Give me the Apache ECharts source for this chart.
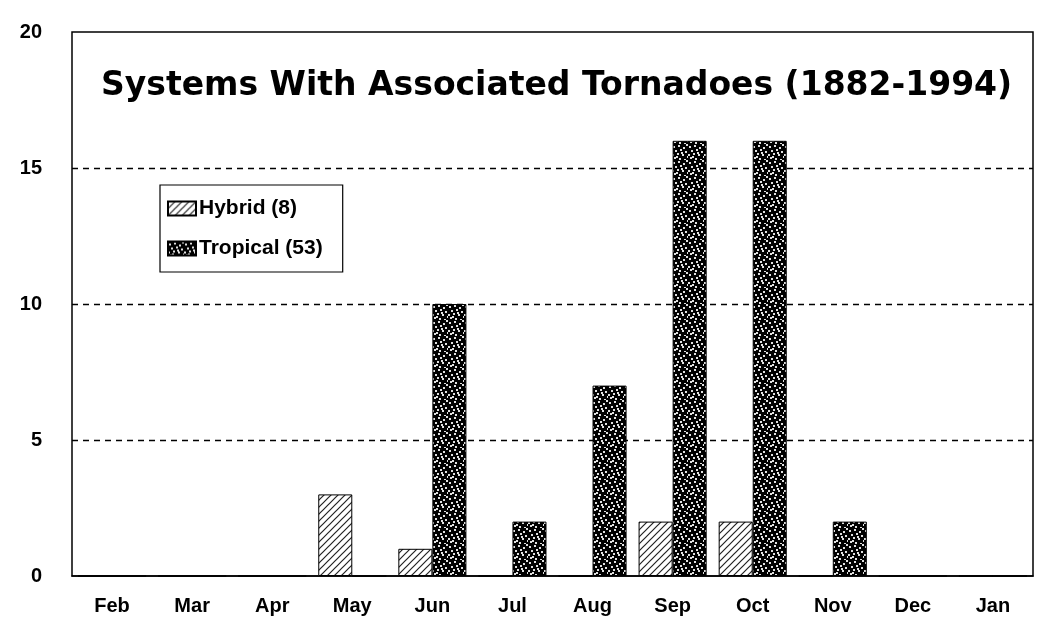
<!DOCTYPE html>
<html>
<head>
<meta charset="utf-8">
<script src="https://cdn.jsdelivr.net/npm/echarts@6/dist/echarts.min.js"></script>
<style>
  html, body { margin: 0; padding: 0; background: #fff; }
  #chart { width: 1045px; height: 635px; }
</style>
</head>
<body>
<div id="chart"></div>
<script>
const months = ['Feb', 'Mar', 'Apr', 'May', 'Jun', 'Jul', 'Aug', 'Sep', 'Oct', 'Nov', 'Dec', 'Jan']
const hybrid = [0, 0, 0, 3, 1, 0, 0, 2, 2, 0, 0, 0]
const tropical = [0, 0, 0, 0, 10, 2, 7, 16, 16, 2, 0, 0]
const yTicks = [0, 5, 10, 15, 20]

const labelFont = 'Liberation Sans Narrow, Arial Narrow, Liberation Sans, Arial, sans-serif'

// diagonal hatch for hybrid bars
function hatchPattern() {
  const c = document.createElement('canvas')
  c.width = 7
  c.height = 7
  const ctx = c.getContext('2d')
  ctx.fillStyle = '#fff'
  ctx.fillRect(0, 0, 7, 7)
  ctx.strokeStyle = '#222'
  ctx.lineWidth = 1.2
  ctx.beginPath()
  ctx.moveTo(-1, 8); ctx.lineTo(8, -1)
  ctx.moveTo(-1, 1); ctx.lineTo(1, -1)
  ctx.moveTo(6, 8); ctx.lineTo(8, 6)
  ctx.stroke()
  return c
}

// dark stipple for tropical bars
function stipplePattern() {
  const c = document.createElement('canvas')
  c.width = 16
  c.height = 16
  const ctx = c.getContext('2d')
  ctx.fillStyle = '#000'
  ctx.fillRect(0, 0, 16, 16)
  ctx.fillStyle = '#e0e0e0'
  const dots = [[1, 2], [6, 1], [11, 3], [14, 0], [3, 6], [8, 5], [13, 7], [0, 10], [5, 9],
    [10, 10], [15, 12], [2, 13], [7, 14], [12, 15], [9, 8], [4, 12]]
  dots.forEach(([x, y]) => ctx.fillRect(x, y, 2, 2))
  return c
}

const chart = echarts.init(document.getElementById('chart'))
chart.setOption({
  animation: false,
  backgroundColor: '#fff',
  title: {
    text: 'Systems With Associated Tornadoes (1882-1994)',
    left: 96,
    top: 65,
    textStyle: {
      fontFamily: 'DejaVu Sans, Liberation Sans, Arial, sans-serif',
      fontSize: 33,
      fontWeight: 'bold',
      color: '#000'
    }
  },
  legend: {
    orient: 'vertical',
    left: 160,
    top: 185,
    padding: [13, 20, 13, 7],
    itemGap: 19,
    itemWidth: 28,
    itemHeight: 14,
    borderColor: '#000',
    borderWidth: 1.2,
    backgroundColor: '#fff',
    icon: 'rect',
    textStyle: {
      fontFamily: labelFont,
      fontSize: 21,
      fontWeight: 'bold',
      color: '#000',
      padding: [0, 0, 0, -2]
    },
    data: ['Hybrid (8)', 'Tropical (53)']
  },
  grid: {
    left: 72,
    right: 12,
    top: 32,
    bottom: 59,
    show: true,
    borderColor: '#000',
    borderWidth: 1.5,
    backgroundColor: 'transparent'
  },
  xAxis: {
    type: 'category',
    data: months,
    axisLine: { lineStyle: { color: '#000', width: 1.5 } },
    axisTick: { show: false },
    axisLabel: {
      margin: 20,
      fontFamily: labelFont,
      fontSize: 20,
      fontWeight: 'bold',
      color: '#000'
    }
  },
  yAxis: {
    type: 'value',
    min: yTicks[0],
    max: yTicks[yTicks.length - 1],
    interval: 5,
    axisLine: { show: false },
    axisTick: { show: false },
    axisLabel: {
      margin: 30,
      fontFamily: labelFont,
      fontSize: 20,
      fontWeight: 'bold',
      color: '#000'
    },
    splitLine: {
      showMinLine: false,
      showMaxLine: false,
      lineStyle: { color: '#000', type: [6, 5], width: 1.3 }
    }
  },
  series: [
    {
      name: 'Hybrid (8)',
      type: 'bar',
      data: hybrid,
      barGap: '0%',
      barCategoryGap: '15%',
      itemStyle: {
        color: { image: hatchPattern(), repeat: 'repeat' },
        borderColor: '#000',
        borderWidth: 1
      }
    },
    {
      name: 'Tropical (53)',
      type: 'bar',
      data: tropical,
      barGap: '0%',
      barCategoryGap: '15%',
      itemStyle: {
        color: { image: stipplePattern(), repeat: 'repeat' },
        borderColor: '#000',
        borderWidth: 1
      }
    }
  ]
})
</script>
</body>
</html>
